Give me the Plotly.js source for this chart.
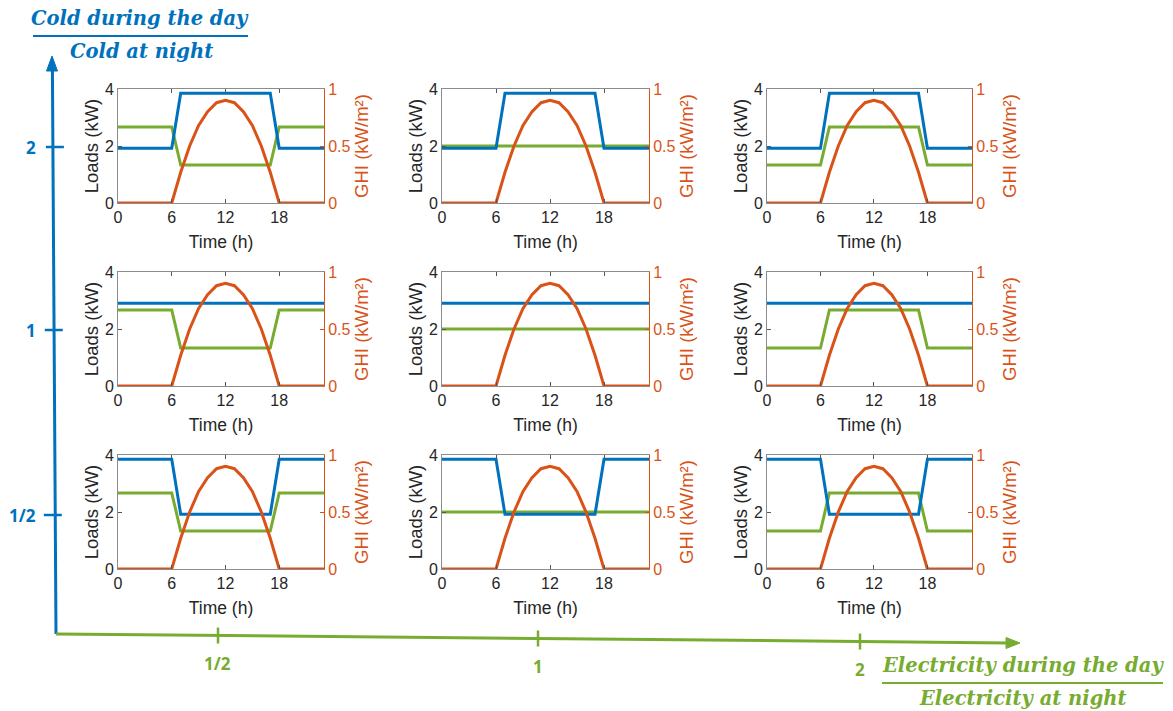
<!DOCTYPE html>
<html>
<head>
<meta charset="utf-8">
<script src="https://cdn.plot.ly/plotly-3.0.1.min.js"></script>
<style>html,body{margin:0;padding:0;background:#fff;}#chart{width:1173px;height:711px;}</style>
</head>
<body>
<div id="chart"></div>
<script>
// ---- Data ----
const hours = [0,1,2,3,4,5,6,7,8,9,10,11,12,13,14,15,16,17,18,19,20,21,22,23];
// Global horizontal irradiance (kW/m²), same in every panel
const ghi = [0,0,0,0,0,0,0,0.27,0.5,0.68,0.8,0.88,0.9,0.88,0.8,0.68,0.5,0.27,0,0,0,0,0,0];
// Cold load (kW) per row: cold day/night ratio 2, 1, 1/2
const coldRatio2 = [1.92,1.92,1.92,1.92,1.92,1.92,1.92,3.85,3.85,3.85,3.85,3.85,3.85,3.85,3.85,3.85,3.85,3.85,1.92,1.92,1.92,1.92,1.92,1.92];
const coldRatio1 = [2.9,2.9,2.9,2.9,2.9,2.9,2.9,2.9,2.9,2.9,2.9,2.9,2.9,2.9,2.9,2.9,2.9,2.9,2.9,2.9,2.9,2.9,2.9,2.9];
const coldRatioHalf = [3.85,3.85,3.85,3.85,3.85,3.85,3.85,1.92,1.92,1.92,1.92,1.92,1.92,1.92,1.92,1.92,1.92,1.92,3.85,3.85,3.85,3.85,3.85,3.85];
// Electricity load (kW) per column: electricity day/night ratio 1/2, 1, 2
const elecRatioHalf = [2.67,2.67,2.67,2.67,2.67,2.67,2.67,1.33,1.33,1.33,1.33,1.33,1.33,1.33,1.33,1.33,1.33,1.33,2.67,2.67,2.67,2.67,2.67,2.67];
const elecRatio1 = [2,2,2,2,2,2,2,2,2,2,2,2,2,2,2,2,2,2,2,2,2,2,2,2];
const elecRatio2 = [1.33,1.33,1.33,1.33,1.33,1.33,1.33,2.67,2.67,2.67,2.67,2.67,2.67,2.67,2.67,2.67,2.67,2.67,1.33,1.33,1.33,1.33,1.33,1.33];
// Axis labels
const rowLabels = ["2", "1", "1/2"];
const colLabels = ["1/2", "1", "2"];
const timeTicks = [0, 6, 12, 18];
const loadTicks = [0, 2, 4];
const ghiTicks = [0, 0.5, 1];
const ghiTickText = ["0", "0.5", "1"];

// ---- Layout helpers ----
const W = 1173, H = 711;
const px = x => x / W;
const py = y => 1 - y / H;
const BLUE = "#0072BD", GREEN = "#77AC30", ORANGE = "#D95319";
const AXC = "#8c8c8c", TXT = "#262626";
const FONT = "Liberation Sans, Arial, sans-serif";

const coldRows = [coldRatio2, coldRatio1, coldRatioHalf];
const elecCols = [elecRatioHalf, elecRatio1, elecRatio2];
const colL = [118, 442, 767], colR = [324, 649, 972];
const rowT = [89, 272, 455], rowB = [203, 386, 569];

const sid = n => (n === 1 ? "" : String(n));
const traces = [];
const layout = {
  width: W, height: H,
  margin: {l: 0, r: 0, t: 0, b: 0},
  paper_bgcolor: "#fff", plot_bgcolor: "#fff",
  showlegend: false,
  font: {family: FONT, size: 16, color: TXT},
  shapes: [], annotations: []
};

for (let r = 0; r < 3; r++) {
  for (let c = 0; c < 3; c++) {
    const k = r * 3 + c + 1;
    const ya = 2 * k - 1, yb = 2 * k;
    const xName = "x" + sid(k), yaName = "y" + sid(ya), ybName = "y" + sid(yb);
    traces.push({x: hours, y: elecCols[c], xaxis: xName, yaxis: yaName, mode: "lines",
      line: {color: GREEN, width: 3}, hoverinfo: "skip"});
    traces.push({x: hours, y: coldRows[r], xaxis: xName, yaxis: yaName, mode: "lines",
      line: {color: BLUE, width: 3}, hoverinfo: "skip"});
    traces.push({x: hours, y: ghi, xaxis: xName, yaxis: ybName, mode: "lines",
      line: {color: ORANGE, width: 3}, hoverinfo: "skip"});

    layout["xaxis" + sid(k)] = {
      domain: [px(colL[c]), px(colR[c])], anchor: yaName,
      range: [0, 23], tickvals: timeTicks, ticks: "inside", ticklen: 4, tickcolor: "#555",
      showline: true, linecolor: AXC, linewidth: 1, mirror: "ticks",
      showgrid: false, zeroline: false,
      tickfont: {size: 16, color: TXT, family: FONT},
      title: {text: "Time (h)", font: {size: 17.5, color: TXT, family: FONT}, standoff: 10},
      fixedrange: true
    };
    layout["yaxis" + sid(ya)] = {
      domain: [py(rowB[r]), py(rowT[r])], anchor: xName,
      range: [0, 4], tickvals: loadTicks, ticks: "inside", ticklen: 4, tickcolor: "#555",
      showline: true, linecolor: AXC, linewidth: 1, mirror: false,
      showgrid: false, zeroline: false,
      tickfont: {size: 16, color: TXT, family: FONT},
      title: {text: "Loads (kW)", font: {size: 18.5, color: TXT, family: FONT}, standoff: 1},
      fixedrange: true
    };
    layout["yaxis" + sid(yb)] = {
      overlaying: yaName, side: "right", anchor: xName,
      range: [0, 1], tickvals: ghiTicks, ticktext: ghiTickText, ticks: "inside", ticklen: 4, tickcolor: ORANGE,
      showline: true, linecolor: ORANGE, linewidth: 1,
      showgrid: false, zeroline: false,
      tickfont: {size: 16, color: ORANGE, family: FONT},
      title: {text: "GHI (kW/m²)", font: {size: 18.5, color: ORANGE, family: FONT}, standoff: 5},
      fixedrange: true
    };
  }
}

// ---- Big outer axes (arrows) ----
const shp = layout.shapes;
// Cold (vertical, blue)
shp.push({type: "line", xref: "paper", yref: "paper", x0: px(56), y0: py(634), x1: px(52.4), y1: py(68),
  line: {color: BLUE, width: 3}});
shp.push({type: "path", xref: "paper", yref: "paper",
  path: `M ${px(52)} ${py(56)} L ${px(46.5)} ${py(71)} L ${px(57.5)} ${py(71)} Z`,
  fillcolor: BLUE, line: {color: BLUE, width: 1}});
// Electricity (horizontal, green)
shp.push({type: "line", xref: "paper", yref: "paper", x0: px(56), y0: py(634), x1: px(1008), y1: py(642.9),
  line: {color: GREEN, width: 3}});
shp.push({type: "path", xref: "paper", yref: "paper",
  path: `M ${px(1020)} ${py(643)} L ${px(1006)} ${py(637.5)} L ${px(1006)} ${py(648.5)} Z`,
  fillcolor: GREEN, line: {color: GREEN, width: 1}});

// tick marks on the big axes
const rowCY = [147, 330, 515];
const rowLineX = [54.9, 53.8, 52.8];
for (let r = 0; r < 3; r++) {
  shp.push({type: "line", xref: "paper", yref: "paper", x0: px(rowLineX[r] - 9), x1: px(rowLineX[r] + 9),
    y0: py(rowCY[r]), y1: py(rowCY[r]), line: {color: BLUE, width: 2.5}});
  layout.annotations.push({xref: "paper", yref: "paper", x: px(38), y: py(rowCY[r]),
    xanchor: "right", yanchor: "middle", showarrow: false, text: rowLabels[r],
    font: {family: "Noto Sans, sans-serif", size: 17, color: BLUE, weight: "bold"}});
}
const colCX = [218, 538, 860];
for (let c = 0; c < 3; c++) {
  const yl = 634 + (colCX[c] - 56) * (9 / 963);
  shp.push({type: "line", xref: "paper", yref: "paper", x0: px(colCX[c]), x1: px(colCX[c]),
    y0: py(yl - 8), y1: py(yl + 8), line: {color: GREEN, width: 2.5}});
  layout.annotations.push({xref: "paper", yref: "paper", x: px(colCX[c]), y: py(yl + 28),
    xanchor: "center", yanchor: "middle", showarrow: false, text: colLabels[c],
    font: {family: "Noto Sans, sans-serif", size: 17, color: GREEN, weight: "bold"}});
}

// fraction labels
const fracFont = col => ({family: "DejaVu Serif, serif", size: 19.5, color: col, style: "italic", weight: "bold"});
layout.annotations.push({xref: "paper", yref: "paper", x: px(140), y: py(18), xanchor: "center", yanchor: "middle",
  showarrow: false, text: "Cold during the day", font: fracFont(BLUE)});
layout.annotations.push({xref: "paper", yref: "paper", x: px(141), y: py(51), xanchor: "center", yanchor: "middle",
  showarrow: false, text: "Cold at night", font: fracFont(BLUE)});
shp.push({type: "line", xref: "paper", yref: "paper", x0: px(33), x1: px(248), y0: py(36), y1: py(36),
  line: {color: BLUE, width: 2}});
layout.annotations.push({xref: "paper", yref: "paper", x: px(1023), y: py(665), xanchor: "center", yanchor: "middle",
  showarrow: false, text: "Electricity during the day", font: fracFont(GREEN)});
layout.annotations.push({xref: "paper", yref: "paper", x: px(1022), y: py(698), xanchor: "center", yanchor: "middle",
  showarrow: false, text: "Electricity at night", font: fracFont(GREEN)});
shp.push({type: "line", xref: "paper", yref: "paper", x0: px(882), x1: px(1163), y0: py(683), y1: py(683),
  line: {color: GREEN, width: 2}});

Plotly.newPlot("chart", traces, layout, {staticPlot: true, displayModeBar: false});
</script>
</body>
</html>
